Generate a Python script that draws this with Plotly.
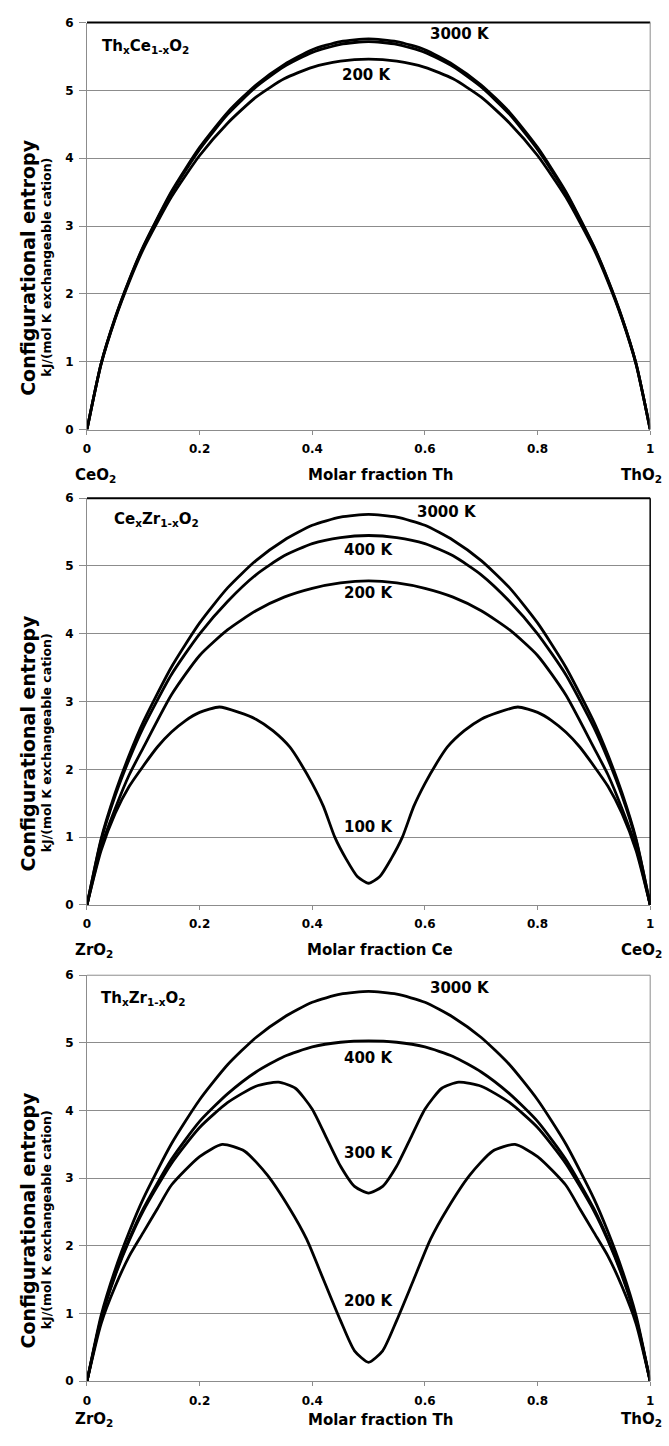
import plotly.graph_objects as go

# ---------------- data ----------------
X = [0, 0.025, 0.05, 0.075, 0.1, 0.15, 0.2, 0.25, 0.3, 0.35, 0.4, 0.45, 0.5,
     0.55, 0.6, 0.65, 0.7, 0.75, 0.8, 0.85, 0.9, 0.925, 0.95, 0.975, 1]

# Panel 1: ThxCe1-xO2
p1_3000 = [0, 0.97, 1.65, 2.21, 2.70, 3.51, 4.16, 4.68, 5.08, 5.38, 5.60, 5.72, 5.76,
           5.72, 5.60, 5.38, 5.08, 4.68, 4.16, 3.51, 2.70, 2.21, 1.65, 0.97, 0]
p1_mid = [0, 0.97, 1.64, 2.20, 2.69, 3.49, 4.13, 4.65, 5.05, 5.35, 5.56, 5.68, 5.72,
          5.68, 5.56, 5.35, 5.05, 4.65, 4.13, 3.49, 2.69, 2.20, 1.64, 0.97, 0]
p1_200 = [0, 0.96, 1.63, 2.18, 2.66, 3.43, 4.04, 4.52, 4.90, 5.17, 5.34, 5.43, 5.46,
          5.43, 5.34, 5.17, 4.90, 4.52, 4.04, 3.43, 2.66, 2.18, 1.63, 0.96, 0]

# Panel 2: CexZr1-xO2
p2_3000 = [0, 0.97, 1.65, 2.21, 2.70, 3.51, 4.16, 4.68, 5.08, 5.38, 5.60, 5.72, 5.76,
           5.72, 5.60, 5.38, 5.08, 4.68, 4.16, 3.51, 2.70, 2.21, 1.65, 0.97, 0]
p2_400 = [0, 0.95, 1.61, 2.15, 2.62, 3.40, 4.00, 4.48, 4.87, 5.15, 5.33, 5.42, 5.45,
          5.42, 5.33, 5.15, 4.87, 4.48, 4.00, 3.40, 2.62, 2.15, 1.61, 0.95, 0]
p2_200 = [0, 0.85, 1.42, 1.92, 2.32, 3.10, 3.68, 4.06, 4.34, 4.54, 4.67, 4.75, 4.78,
          4.75, 4.67, 4.54, 4.34, 4.06, 3.68, 3.10, 2.32, 1.92, 1.42, 0.85, 0]
X100 = [0, 0.025, 0.05, 0.075, 0.1, 0.125, 0.15, 0.175, 0.2, 0.235, 0.27, 0.3, 0.33,
        0.36, 0.38, 0.4, 0.42, 0.44, 0.46, 0.48, 0.5, 0.52, 0.54, 0.56, 0.58, 0.6, 0.62,
        0.64, 0.67, 0.7, 0.73, 0.765, 0.8, 0.825, 0.85, 0.875, 0.9, 0.925, 0.95, 0.975, 1]
p2_100 = [0, 0.80, 1.35, 1.75, 2.05, 2.33, 2.55, 2.72, 2.84, 2.92, 2.84, 2.74, 2.57,
          2.33, 2.08, 1.79, 1.45, 1.00, 0.68, 0.42, 0.32, 0.42, 0.68, 1.00, 1.45, 1.79, 2.08,
          2.33, 2.57, 2.74, 2.84, 2.92, 2.84, 2.72, 2.55, 2.33, 2.05, 1.75, 1.35, 0.80, 0]

# Panel 3: ThxZr1-xO2
p3_3000 = [0, 0.97, 1.65, 2.21, 2.70, 3.51, 4.16, 4.68, 5.08, 5.38, 5.60, 5.72, 5.76,
           5.72, 5.60, 5.38, 5.08, 4.68, 4.16, 3.51, 2.70, 2.21, 1.65, 0.97, 0]
p3_400 = [0, 0.93, 1.58, 2.10, 2.55, 3.28, 3.84, 4.25, 4.57, 4.80, 4.94, 5.01, 5.03,
          5.01, 4.94, 4.80, 4.57, 4.25, 3.84, 3.28, 2.55, 2.10, 1.58, 0.93, 0]
X300 = [0, 0.025, 0.05, 0.075, 0.1, 0.15, 0.2, 0.25, 0.3, 0.34, 0.37, 0.4, 0.425,
        0.45, 0.475, 0.5, 0.525, 0.55, 0.575, 0.6, 0.63, 0.66, 0.7, 0.75, 0.8, 0.85, 0.9,
        0.925, 0.95, 0.975, 1]
p3_300 = [0, 0.92, 1.56, 2.08, 2.52, 3.22, 3.75, 4.12, 4.36, 4.42, 4.33, 4.02, 3.60,
          3.18, 2.88, 2.78, 2.88, 3.18, 3.60, 4.02, 4.33, 4.42, 4.36, 4.12, 3.75, 3.22, 2.52,
          2.08, 1.56, 0.92, 0]
X200 = [0, 0.025, 0.05, 0.075, 0.1, 0.125, 0.15, 0.2, 0.24, 0.28, 0.32, 0.36, 0.39,
        0.42, 0.45, 0.475, 0.5, 0.525, 0.55, 0.58, 0.61, 0.64, 0.68, 0.72, 0.76, 0.8, 0.85,
        0.875, 0.9, 0.925, 0.95, 0.975, 1]
p3_200 = [0, 0.85, 1.40, 1.85, 2.20, 2.55, 2.90, 3.32, 3.50, 3.40, 3.05, 2.55, 2.10,
          1.50, 0.90, 0.45, 0.28, 0.45, 0.90, 1.50, 2.10, 2.55, 3.05, 3.40, 3.50, 3.32, 2.90,
          2.55, 2.20, 1.85, 1.40, 0.85, 0]

Y_TICKS = [0, 1, 2, 3, 4, 5, 6]
X_TICKS = [0, 0.2, 0.4, 0.6, 0.8, 1]
X_TICKTEXT = ["0", "0.2", "0.4", "0.6", "0.8", "1"]

panels = [
    dict(series=[(X, p1_3000), (X, p1_mid), (X, p1_200)],
         compound="Th<sub>x</sub>Ce<sub>1-x</sub>O<sub>2</sub>", comp_xy=(0.023, 5.65),
         temps=[("3000 K", 0.662, 5.83), ("200 K", 0.497, 5.22)],
         left="CeO<sub>2</sub>", mid="Molar fraction Th", right="ThO<sub>2</sub>"),
    dict(series=[(X, p2_3000), (X, p2_400), (X, p2_200), (X100, p2_100)],
         compound="Ce<sub>x</sub>Zr<sub>1-x</sub>O<sub>2</sub>", comp_xy=(0.044, 5.68),
         temps=[("3000 K", 0.64, 5.80), ("400 K", 0.50, 5.24), ("200 K", 0.50, 4.60),
                ("100 K", 0.50, 1.15)],
         left="ZrO<sub>2</sub>", mid="Molar fraction Ce", right="CeO<sub>2</sub>"),
    dict(series=[(X, p3_3000), (X, p3_400), (X300, p3_300), (X200, p3_200)],
         compound="Th<sub>x</sub>Zr<sub>1-x</sub>O<sub>2</sub>", comp_xy=(0.021, 5.65),
         temps=[("3000 K", 0.663, 5.81), ("400 K", 0.50, 4.77), ("300 K", 0.50, 3.38),
                ("200 K", 0.50, 1.19)],
         left="ZrO<sub>2</sub>", mid="Molar fraction Th", right="ThO<sub>2</sub>"),
]

# ---------------- layout geometry (pixels) ----------------
W, H = 669, 1446
X_LEFT, X_RIGHT = 84, 654
PANEL_TOP = [15.7, 496, 977.7]
PANEL_BOT = [426.7, 906.7, 1387.7]
BOTTOM_LABEL_OFF = [46, 46, 39]
TOP_COLOR = ["black", "black", "#8c8c8c"]
RIGHT_COLOR = ["#8c8c8c", "black", "#8c8c8c"]

FONT = "DejaVu Sans, Liberation Sans, Arial, sans-serif"
GRID = "#8c8c8c"


def px_x(p):
    return p / W


def px_y(p):
    return 1 - p / H


fig = go.Figure()
layout = dict(width=W, height=H, margin=dict(l=0, r=0, t=0, b=0),
              paper_bgcolor="white", plot_bgcolor="white", showlegend=False,
              font=dict(family=FONT, color="black"))
annotations = []
shapes = []

for i, pn in enumerate(panels):
    n = "" if i == 0 else str(i + 1)
    xa, ya = "x" + n, "y" + n
    for xs, ys in pn["series"]:
        fig.add_trace(go.Scatter(x=xs, y=ys, mode="lines", xaxis=xa, yaxis=ya,
                                 line=dict(color="black", width=2.8, shape="spline",
                                           smoothing=0.6),
                                 hoverinfo="skip"))
    layout["xaxis" + n] = dict(
        domain=[px_x(X_LEFT), px_x(X_RIGHT)], anchor=ya, range=[0, 1],
        tickvals=X_TICKS, ticktext=X_TICKTEXT, ticks="outside", ticklen=4,
        tickcolor=GRID, showline=True, linecolor=GRID, linewidth=1, showgrid=False,
        zeroline=False, tickfont=dict(size=12, family=FONT, weight="bold"),
        ticklabelstandoff=4)
    layout["yaxis" + n] = dict(
        domain=[px_y(PANEL_BOT[i]), px_y(PANEL_TOP[i])], anchor=xa, range=[0, 6],
        tickvals=Y_TICKS, ticks="outside", ticklen=7, tickcolor=GRID,
        showline=True, linecolor=GRID, linewidth=1, showgrid=True, gridcolor=GRID,
        gridwidth=1, zeroline=False, tickfont=dict(size=12, family=FONT, weight="bold"),
        ticklabelstandoff=3)

    # frame: top and right edges
    shapes.append(dict(type="line", xref=xa + " domain", yref=ya + " domain",
                       x0=0, x1=1, y0=1, y1=1,
                       line=dict(color=TOP_COLOR[i], width=2 if i < 2 else 1)))
    shapes.append(dict(type="line", xref=xa + " domain", yref=ya + " domain",
                       x0=1, x1=1, y0=0, y1=1,
                       line=dict(color=RIGHT_COLOR[i], width=1.5 if i == 1 else 1)))

    # compound label
    annotations.append(dict(text=pn["compound"], x=pn["comp_xy"][0], y=pn["comp_xy"][1],
                            xref=xa, yref=ya, xanchor="left", yanchor="middle",
                            showarrow=False,
                            font=dict(size=15, family=FONT, weight="bold")))
    # temperature labels
    for t, tx, ty in pn["temps"]:
        annotations.append(dict(text=t, x=tx, y=ty, xref=xa, yref=ya, xanchor="center",
                                yanchor="middle", showarrow=False,
                                font=dict(size=15, family=FONT, weight="bold")))
    # y-axis titles
    ycen = px_y(PANEL_TOP[i] + 247)
    annotations.append(dict(text="Configurational entropy", x=px_x(24), y=ycen,
                            xref="paper", yref="paper", textangle=-90, showarrow=False,
                            xanchor="center", yanchor="middle",
                            font=dict(size=19, family=FONT, weight="bold")))
    annotations.append(dict(text="kJ/(mol K exchangeable cation)", x=px_x(43), y=ycen,
                            xref="paper", yref="paper", textangle=-90, showarrow=False,
                            xanchor="center", yanchor="middle",
                            font=dict(size=12.5, family=FONT, weight="bold")))
    # bottom labels
    by = px_y(PANEL_BOT[i] + BOTTOM_LABEL_OFF[i])
    annotations.append(dict(text=pn["left"], x=px_x(70), y=by, xref="paper", yref="paper",
                            xanchor="left", yanchor="middle", showarrow=False,
                            font=dict(size=15, family=FONT, weight="bold")))
    annotations.append(dict(text=pn["mid"], x=px_x(381), y=by, xref="paper", yref="paper",
                            xanchor="center", yanchor="middle", showarrow=False,
                            font=dict(size=15, family=FONT, weight="bold")))
    annotations.append(dict(text=pn["right"], x=px_x(668), y=by, xref="paper",
                            yref="paper", xanchor="right", yanchor="middle",
                            showarrow=False,
                            font=dict(size=15, family=FONT, weight="bold")))

layout["annotations"] = annotations
layout["shapes"] = shapes
fig.update_layout(**layout)
fig.write_html("out.html")
